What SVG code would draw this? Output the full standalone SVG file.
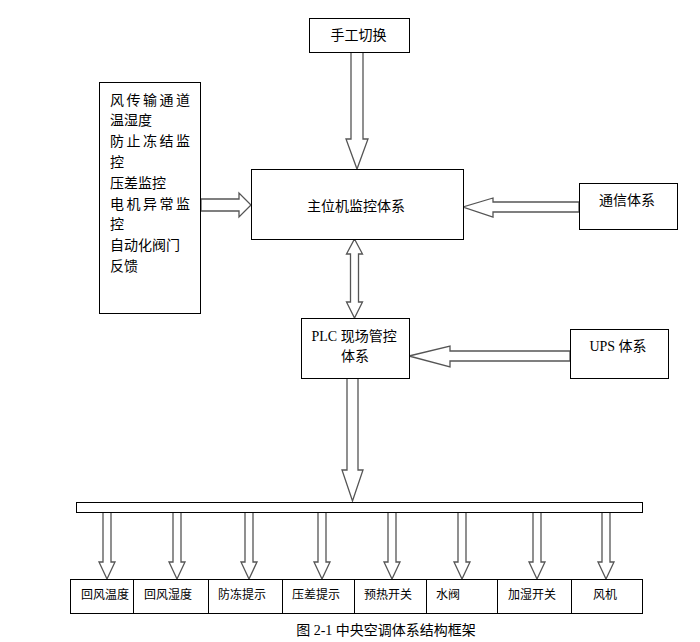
<svg xmlns="http://www.w3.org/2000/svg" width="700" height="642" viewBox="0 0 700 642">
<style>
.box{fill:#fff;stroke:#000;stroke-width:1}
.arr{fill:#fff;stroke:#555;stroke-width:1.3;stroke-linejoin:miter}
.t{font-family:"Noto Sans CJK SC","Liberation Sans",sans-serif;font-size:14px;fill:#000}
.s{font-family:"Liberation Serif","Noto Sans CJK SC",serif;font-size:14px;fill:#000}
.b{font-family:"Noto Sans CJK SC","Liberation Sans",sans-serif;font-size:12px;fill:#000;text-anchor:middle}
.m{text-anchor:middle}
.sp{letter-spacing:2.5px}
</style>
<rect width="700" height="642" fill="#fff"/>
<g id="connectors">
<polygon class="arr" points="351,52 363,52 363,139 368,139 357,169 346,139 351,139"/>
<polygon class="arr" points="201,199 239,199 239,193 251,205 239,217 239,211 201,211"/>
<polygon class="arr" points="579,202 493,202 493,198 463,207 493,217 493,212 579,212"/>
<polygon class="arr" points="354.5,239 362.5,254 358.5,254 358.5,302 362.5,302 354.5,318 346.5,302 350.5,302 350.5,254 346.5,254"/>
<polygon class="arr" points="570,351 450,351 450,346 409,356 450,367 450,361 570,361"/>
<polygon class="arr" points="347,378 358,378 358,470 363,470 352.5,501 342,470 347,470"/>
<polygon class="arr" points="103,512 111,512 111,562 115,562 107,579 99,562 103,562"/>
<polygon class="arr" points="173,512 181,512 181,562 185,562 177,579 169,562 173,562"/>
<polygon class="arr" points="245,512 253,512 253,562 257,562 249,579 241,562 245,562"/>
<polygon class="arr" points="318,512 326,512 326,562 330,562 322,579 314,562 318,562"/>
<polygon class="arr" points="388,512 396,512 396,562 400,562 392,579 384,562 388,562"/>
<polygon class="arr" points="458,512 466,512 466,562 470,562 462,579 454,562 458,562"/>
<polygon class="arr" points="533,512 541,512 541,562 545,562 537,579 529,562 533,562"/>
<polygon class="arr" points="602,512 610,512 610,562 614,562 606,579 598,562 602,562"/>
</g>
<g id="manual">
<rect class="box" x="309.5" y="18.5" width="100" height="34"/>
<text class="t m" x="358.5" y="39.5">手工切换</text>
</g>
<g id="sensors">
<rect class="box" x="99.5" y="82.5" width="101" height="231"/>
<text class="t sp" x="110" y="104.5">风传输通道</text>
<text class="t" x="110" y="125">温湿度</text>
<text class="t sp" x="110" y="146">防止冻结监</text>
<text class="t" x="110" y="167">控</text>
<text class="t" x="110" y="188">压差监控</text>
<text class="t sp" x="110" y="208.5">电机异常监</text>
<text class="t" x="110" y="229">控</text>
<text class="t" x="110" y="250">自动化阀门</text>
<text class="t" x="110" y="270.5">反馈</text>
</g>
<g id="host">
<rect class="box" x="251.5" y="169.5" width="212" height="70"/>
<text class="t m" x="356" y="211">主位机监控体系</text>
</g>
<g id="comm">
<rect class="box" x="579.5" y="183.5" width="98" height="46"/>
<text class="t m" x="627" y="205">通信体系</text>
</g>
<g id="plc">
<rect class="box" x="301.5" y="318.5" width="108" height="60"/>
<text class="s" x="311.5" y="341">PLC 现场管控</text>
<text class="t m" x="355" y="360.5">体系</text>
</g>
<g id="ups">
<rect class="box" x="570.5" y="329.5" width="98" height="49"/>
<text class="s m" x="618" y="350.5">UPS 体系</text>
</g>
<g id="bus">
<rect class="box" x="76.5" y="502.5" width="566" height="10"/>
</g>
<g id="outputs">
<rect class="box" x="70.5" y="579.5" width="63" height="34"/>
<rect class="box" x="133.5" y="579.5" width="75" height="34"/>
<rect class="box" x="208.5" y="579.5" width="74" height="34"/>
<rect class="box" x="282.5" y="579.5" width="72" height="34"/>
<rect class="box" x="354.5" y="579.5" width="72" height="34"/>
<rect class="box" x="426.5" y="579.5" width="71" height="34"/>
<rect class="box" x="497.5" y="579.5" width="74" height="34"/>
<rect class="box" x="571.5" y="579.5" width="71" height="34"/>
<text class="b" x="105" y="599">回风温度</text>
<text class="b" x="168" y="599">回风湿度</text>
<text class="b" x="242" y="599">防冻提示</text>
<text class="b" x="316" y="599">压差提示</text>
<text class="b" x="388" y="599">预热开关</text>
<text class="b" x="448" y="599">水阀</text>
<text class="b" x="532" y="599">加湿开关</text>
<text class="b" x="605" y="599">风机</text>
</g>
<g id="caption">
<text class="s m" x="386" y="635">图 2-1 中央空调体系结构框架</text>
</g>
</svg>
